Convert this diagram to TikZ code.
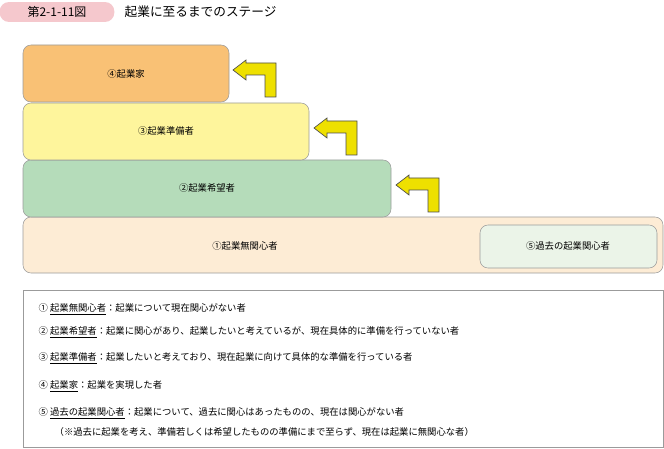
\documentclass[tikz,border=0pt]{standalone}
\usepackage{fontspec}
\setmainfont{Noto Sans CJK JP}
\usepackage{xcolor}
\definecolor{pinkbg}{HTML}{F5C8CD}
\definecolor{stfour}{HTML}{F9C175}
\definecolor{stthree}{HTML}{FEF59C}
\definecolor{sttwo}{HTML}{B5DCBA}
\definecolor{stone}{HTML}{FDECD5}
\definecolor{stfive}{HTML}{EBF4E8}
\definecolor{arrowyel}{HTML}{EEE000}
\definecolor{gr}{HTML}{9B9B9B}

\begin{document}
\begin{tikzpicture}[
            x = 0.75pt, y = -0.75pt, % pixel grid
            stage/.style = {draw = gr, rounded corners = 6pt, inner sep = 0pt},
            bent/.style = {draw = black!70, fill = arrowyel, line width = 0.5pt},
            line/.style = {anchor = west, font = \fontsize{7}{8}\selectfont},
  ]
        \useasboundingbox (0, 0) rectangle (664, 449);

        % title
        \node[fill = pinkbg, rounded corners = 7pt, minimum width = 86pt, minimum height = 14pt,
              font = \fontsize{9}{10}\selectfont] (fig) at (57, 12) {第2-1-11図};
        \node[anchor = west, font = \fontsize{9.5}{11}\selectfont] (title) at (120, 12) {起業に至るまでのステージ};

        % stages
        \draw[stage, fill = stone] (23, 217) rectangle (663, 273);
        \draw[stage, fill = sttwo] (23, 160) rectangle (391, 217);
        \draw[stage, fill = stthree] (23, 103) rectangle (309, 160);
        \draw[stage, fill = stfour] (23, 45) rectangle (229, 102);
        \draw[stage, fill = stfive] (480, 225) rectangle (657, 268);

        \node[font = \fontsize{7}{8}\selectfont] (s4) at (126, 74) {④起業家};
        \node[font = \fontsize{7}{8}\selectfont] (s3) at (166, 131) {③起業準備者};
        \node[font = \fontsize{7}{8}\selectfont] (s2) at (207, 188) {②起業希望者};
        \node[font = \fontsize{7}{8}\selectfont] (s1) at (245, 246) {①起業無関心者};
        \node[font = \fontsize{7}{8}\selectfont] (s5) at (568, 246) {⑤過去の起業関心者};

        % bent arrows
        \foreach \dx/\dy in {0/0, 81/58, 163/115}
            \draw[bent, shift = {(\dx, \dy)}] (233, 70) -- (246, 60) -- (246, 63) -- (276, 63)
                -- (276, 97) -- (265, 97) -- (265, 75) -- (246, 75) -- (246, 80) -- cycle;

        % legend
        \draw[draw = gr] (23, 290) rectangle (663, 447);
        \node[line] (l1) at (34, 309) {①\ \underline{起業無関心者}：起業について現在関心がない者};
        \node[line] (l2) at (34, 332) {②\ \underline{起業希望者}：起業に関心があり、起業したいと考えているが、現在具体的に準備を行っていない者};
        \node[line] (l3) at (34, 358) {③\ \underline{起業準備者}：起業したいと考えており、現在起業に向けて具体的な準備を行っている者};
        \node[line] (l4) at (34, 386) {④\ \underline{起業家}：起業を実現した者};
        \node[line] (l5) at (34, 413) {⑤\ \underline{過去の起業関心者}：起業について、過去に関心はあったものの、現在は関心がない者};
        \node[line] (l6) at (50, 432) {（※過去に起業を考え、準備若しくは希望したものの準備にまで至らず、現在は起業に無関心な者）};
\end{tikzpicture}
\end{document}
